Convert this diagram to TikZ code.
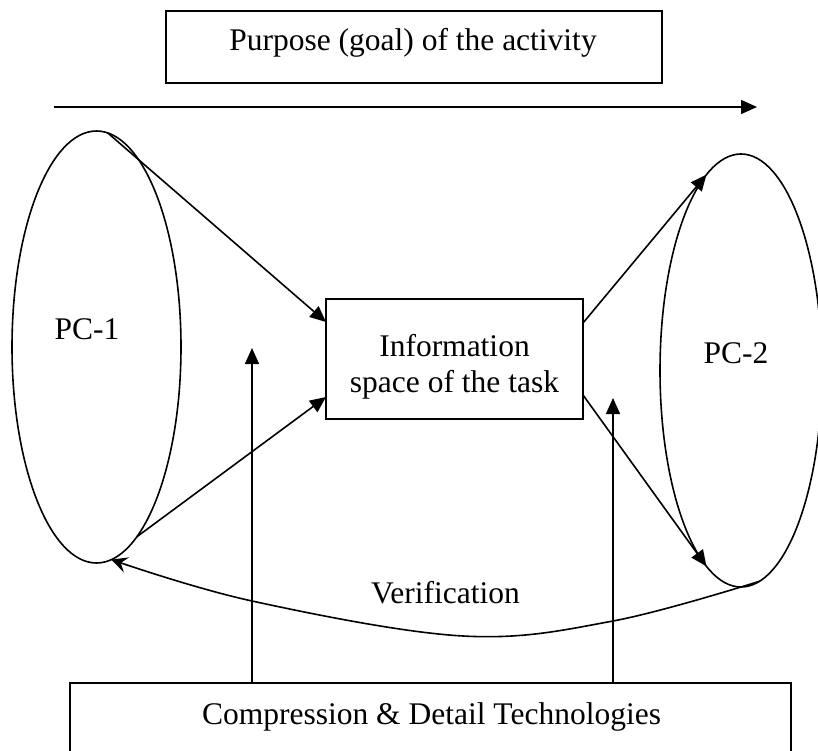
\documentclass[tikz,border=0pt]{standalone}
\usepackage{fontspec}
\setmainfont{Liberation Serif}
\usetikzlibrary{arrows.meta,shapes.geometric}
\begin{document}
\begin{tikzpicture}[x=1pt,y=-1pt, line width=1.6pt,
  lbl/.style={font=\fontsize{31.5}{36}\selectfont, inner sep=0pt},
  boxnode/.style={draw, rectangle, inner sep=0pt, outer sep=0pt},
  oval/.style={draw, ellipse, inner sep=0pt, outer sep=0pt},
  tri/.style={-{Triangle[length=16pt,width=14pt]}},
  barb/.style={-{Stealth[length=16pt,width=16pt,inset=6pt]}}]
\useasboundingbox (0,0) rectangle (818,751);
\clip (0,0) rectangle (818,751);

% top goal box
\node[boxnode, minimum width=496pt, minimum height=72pt] (goal) at (414,47) {};
\node[lbl, anchor=base] (goaltxt) at (413,51) {Purpose (goal) of the activity};

% long arrow
\coordinate (ga) at (54,107);
\coordinate (gb) at (757,107);
\draw[tri] (ga) -- (gb);

% ellipses
\node[oval, minimum width=169pt, minimum height=432pt] (pc1) at (96.5,347) {};
\node[lbl, anchor=base] (pc1txt) at (87,339) {PC-1};
\node[oval, minimum width=162pt, minimum height=433pt] (pc2) at (741,370.5) {};
\node[lbl, anchor=base] (pc2txt) at (736,363) {PC-2};

% information box
\node[boxnode, minimum width=257pt, minimum height=120pt] (info) at (454.5,359) {};
\node[lbl, align=center] (infotxt) at (454.5,366.6) {Information\\space of the task};

% bottom box
\node[boxnode, minimum width=721pt, minimum height=100pt, anchor=north] (bot) at (430.5,683) {};
\node[lbl, anchor=base] (bottxt) at (431.5,724) {Compression \& Detail Technologies};

% connectors
\draw[tri] (pc1.87) -- ([yshift=37pt]info.west);
\draw[tri] (pc1.-78.5) -- ([yshift=-38pt]info.west);
\draw[tri] ([yshift=36pt]info.east) -- (pc2.100);
\draw[tri] ([yshift=-36pt]info.east) -- (pc2.-100);

\coordinate (va1) at (252,348);
\coordinate (va2) at (613,398);
\draw[tri] (bot.north -| va1) -- (va1);
\draw[tri] (bot.north -| va2) -- (va2);

% verification
\draw[barb] plot[smooth, tension=0.6] coordinates {(pc2.-85) (613,621) (463,636) (252,601) (pc1.-86.5)};
\node[lbl, anchor=base] (vertxt) at (445.5,603) {Verification};
\end{tikzpicture}
\end{document}
